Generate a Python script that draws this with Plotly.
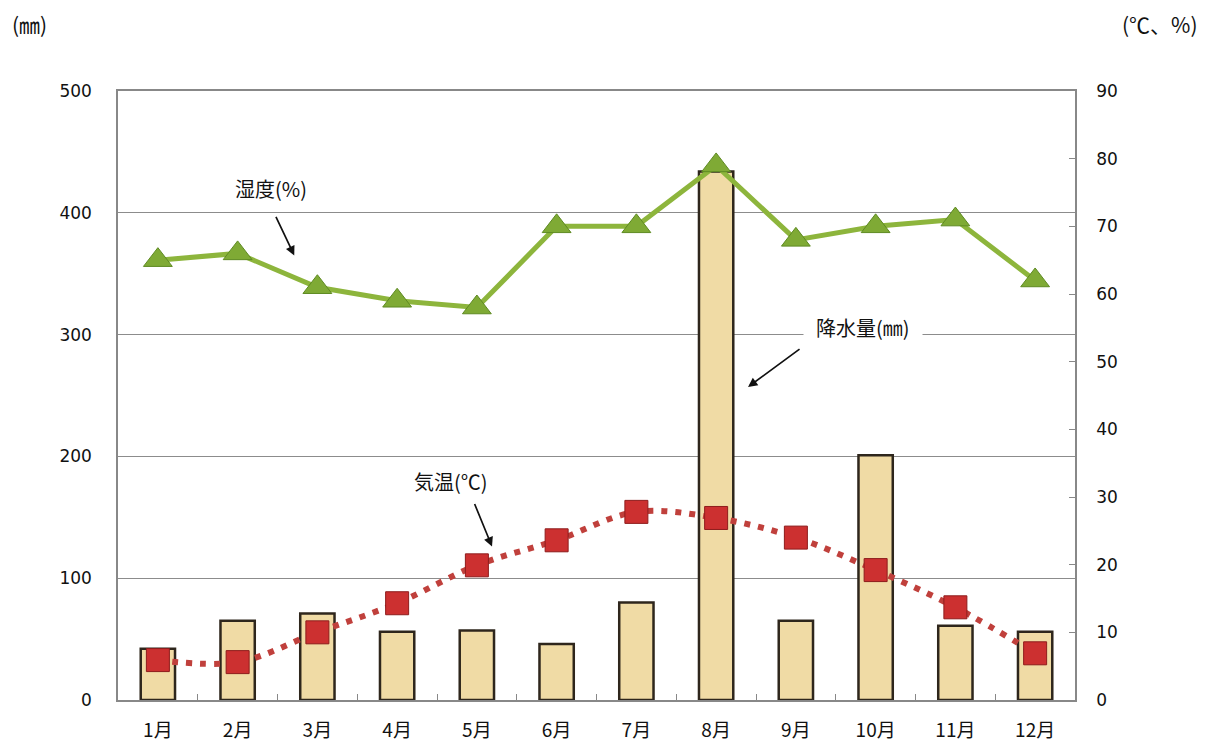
import plotly.graph_objects as go

months = ["1月", "2月", "3月", "4月", "5月", "6月", "7月", "8月", "9月", "10月", "11月", "12月"]
rain_mm = [42, 65, 71, 56, 57, 46, 80, 434, 65, 201, 61, 56]
humidity_pct = [65, 66, 61, 59, 58, 70, 70, 79, 68, 70, 71, 62]
temp_c = [5.9, 5.6, 10.0, 14.3, 19.9, 23.6, 27.8, 26.9, 24.0, 19.2, 13.7, 6.9]

FONT = "DejaVu Sans, Noto Sans CJK JP, sans-serif"
JP = "Noto Sans CJK JP, sans-serif"

fig = go.Figure()

fig.add_trace(go.Bar(
    x=months, y=rain_mm, name="降水量",
    width=0.43,
    marker=dict(color="#F0DBA5", line=dict(color="#2E261C", width=2.5)),
    yaxis="y",
))

fig.add_trace(go.Scatter(
    x=months, y=humidity_pct, name="湿度",
    mode="lines+markers",
    line=dict(color="#8DB53C", width=5),
    marker=dict(symbol="triangle-up", size=25, color="#7FAA35",
                line=dict(color="#5E8A22", width=1)),
    yaxis="y2",
))

fig.add_trace(go.Scatter(
    x=months, y=temp_c, name="気温",
    mode="lines+markers",
    line=dict(color="#C0403C", width=6, dash="6px,8px", shape="spline"),
    marker=dict(symbol="square", size=23, color="#CC3030",
                line=dict(color="#8E1C1C", width=1)),
    yaxis="y2",
))

# the page adds an 8px body margin, so the figure is kept a little smaller
fig.update_layout(
    width=1197, height=734,
    margin=dict(l=110, r=130, t=83, b=42),
    paper_bgcolor="white", plot_bgcolor="white",
    showlegend=False,
    font=dict(family=FONT, size=17, color="#111111"),
    xaxis=dict(
        type="category", range=[-0.5, 11.5], automargin=False,
        showline=True, linecolor="#888888", linewidth=1.5, mirror=True,
        ticks="inside", tickson="boundaries", ticklen=6, tickcolor="#888888",
        tickfont=dict(family=JP, size=19),
        ticklabelstandoff=12,
    ),
    yaxis=dict(
        range=[0, 500], dtick=100, automargin=False,
        showgrid=True, gridcolor="#8C8C8C", gridwidth=1.3,
        showline=True, linecolor="#888888", linewidth=1.5,
        ticks="", ticklabelstandoff=21,
        zeroline=False,
    ),
    yaxis2=dict(
        range=[0, 90], dtick=10, overlaying="y", side="right", automargin=False,
        showgrid=False, zeroline=False,
        showline=True, linecolor="#888888", linewidth=1.5,
        ticks="inside", ticklen=6, tickcolor="#888888",
        ticklabelstandoff=16,
    ),
)

ann_font = dict(family=JP, size=20, color="#111111")
unit_font = dict(family=JP, size=21, color="#111111")

fig.add_annotation(xref="paper", yref="paper", x=-0.1127, y=1.11, xanchor="left", yanchor="middle",
                   text="(㎜)", showarrow=False, font=unit_font)
fig.add_annotation(xref="paper", yref="paper", x=1.1305, y=1.11, xanchor="right", yanchor="middle",
                   text="(℃、%)", showarrow=False, font=unit_font)

# series labels with arrows
arrow = dict(showarrow=True, arrowhead=2, arrowsize=1.1, arrowwidth=1.7, arrowcolor="#111111", text="")

fig.add_annotation(x=1.42, y=420, xref="x", yref="y", text="湿度(%)", showarrow=False, font=ann_font)
fig.add_annotation(x=1.71, y=365, xref="x", yref="y", ax=-19, ay=-40, **arrow)

fig.add_annotation(x=3.67, y=179, xref="x", yref="y", text="気温(℃)", showarrow=False,
                   font=ann_font, bgcolor="white")
fig.add_annotation(x=4.19, y=126, xref="x", yref="y", ax=-18, ay=-44, **arrow)

fig.add_annotation(x=8.84, y=306, xref="x", yref="y", text="降水量(㎜)", showarrow=False,
                   font=ann_font, bgcolor="white", borderpad=12)
fig.add_annotation(x=7.40, y=257, xref="x", yref="y", ax=53, ay=-39, **arrow)

fig.write_html("out.html")
